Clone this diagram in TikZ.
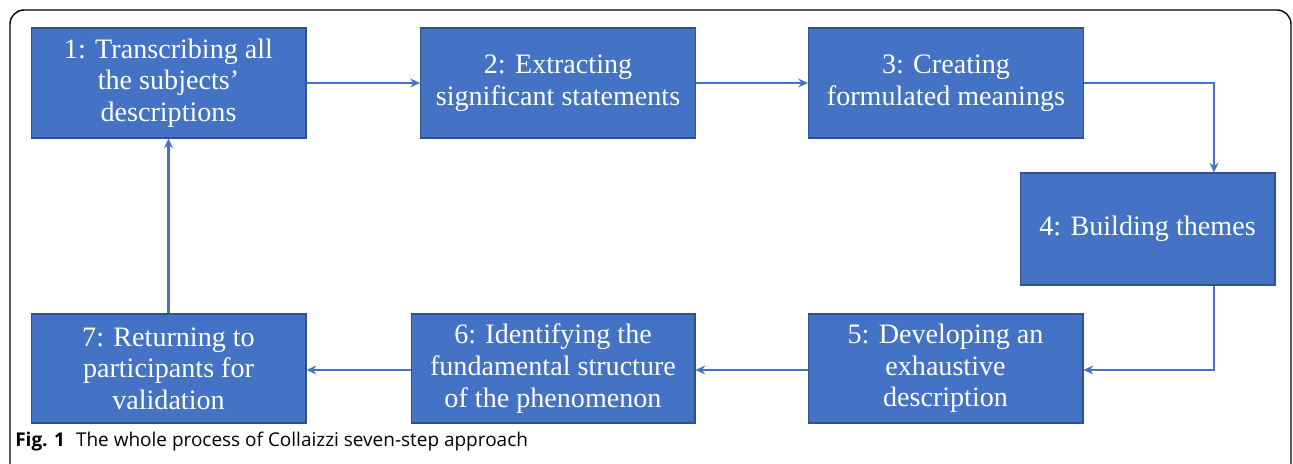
\documentclass[tikz,border=0pt]{standalone}
\usepackage{fontspec}
\setmainfont{Liberation Serif}
\newfontfamily\capfont{Open Sans}
\usetikzlibrary{arrows.meta}
\definecolor{kutumavi}{HTML}{4472C4}
\definecolor{kenarmavi}{HTML}{2F528F}

\begin{document}
\begin{tikzpicture}[x=0.02cm, y=0.02cm, >={Stealth[length=5.5pt, width=5pt]}, line width=1.5pt,
    stepbox/.style={draw=kenarmavi, fill=kutumavi, text=white, line width=0.6pt,
      minimum width=5.5cm, minimum height=2.2cm, inner sep=2pt, align=center,
      font=\fontsize{16}{18}\selectfont},
    ok/.style={->, draw=kutumavi}]

\useasboundingbox (0,0) rectangle (1293,463);

% Çerçeve
\draw[line width=0.8pt, rounded corners=8pt] (10,-30) -- (10,453) -- (1291,453) -- (1291,-30);

% Adımlar (üst sıra)
\node[stepbox] (S1) at ( 168.5, 380) {1: Transcribing all\\the subjects'\\descriptions};
\node[stepbox] (S2) at ( 558,   380) {2: Extracting\\significant statements};
\node[stepbox] (S3) at ( 946,   380) {3: Creating\\formulated meanings};

% Sağ kenar
\node[stepbox, minimum width=5.1cm, minimum height=2.24cm] (S4) at (1147.5, 234) {4: Building themes};

% Alt sıra
\node[stepbox, minimum height=2.18cm] (S5) at ( 945.5, 94.5) {5: Developing an\\exhaustive\\description};
\node[stepbox, minimum width=5.68cm, minimum height=2.18cm] (S6) at ( 553, 94.5) {6: Identifying the\\fundamental structure\\of the phenomenon};
\node[stepbox, minimum height=2.18cm] (S7) at ( 168.5, 94.5) {7: Returning to\\participants for\\validation};

% Geçişler
\draw[ok] (S1) -- (S2);
\draw[ok] (S2) -- (S3);
\draw[ok] (S3.east) -| ([xshift=1.33cm]S4.north);
\draw[ok] ([xshift=1.33cm]S4.south) |- ([yshift=-0.03cm]S5.east);
\draw[ok] ([yshift=-0.03cm]S5.west) -- ([yshift=-0.03cm]S6.east);
\draw[ok] ([yshift=-0.03cm]S6.west) -- ([yshift=-0.03cm]S7.east);
\draw[ok] (S7) -- (S1);

% Başlık
\node[anchor=base west, inner sep=0pt, font=\capfont\fontsize{10.8}{13}\selectfont] (cap) at (14, 17)
  {\textbf{Fig. 1}\hspace{0.22cm}The whole process of Collaizzi seven-step approach};

\end{tikzpicture}
\end{document}
